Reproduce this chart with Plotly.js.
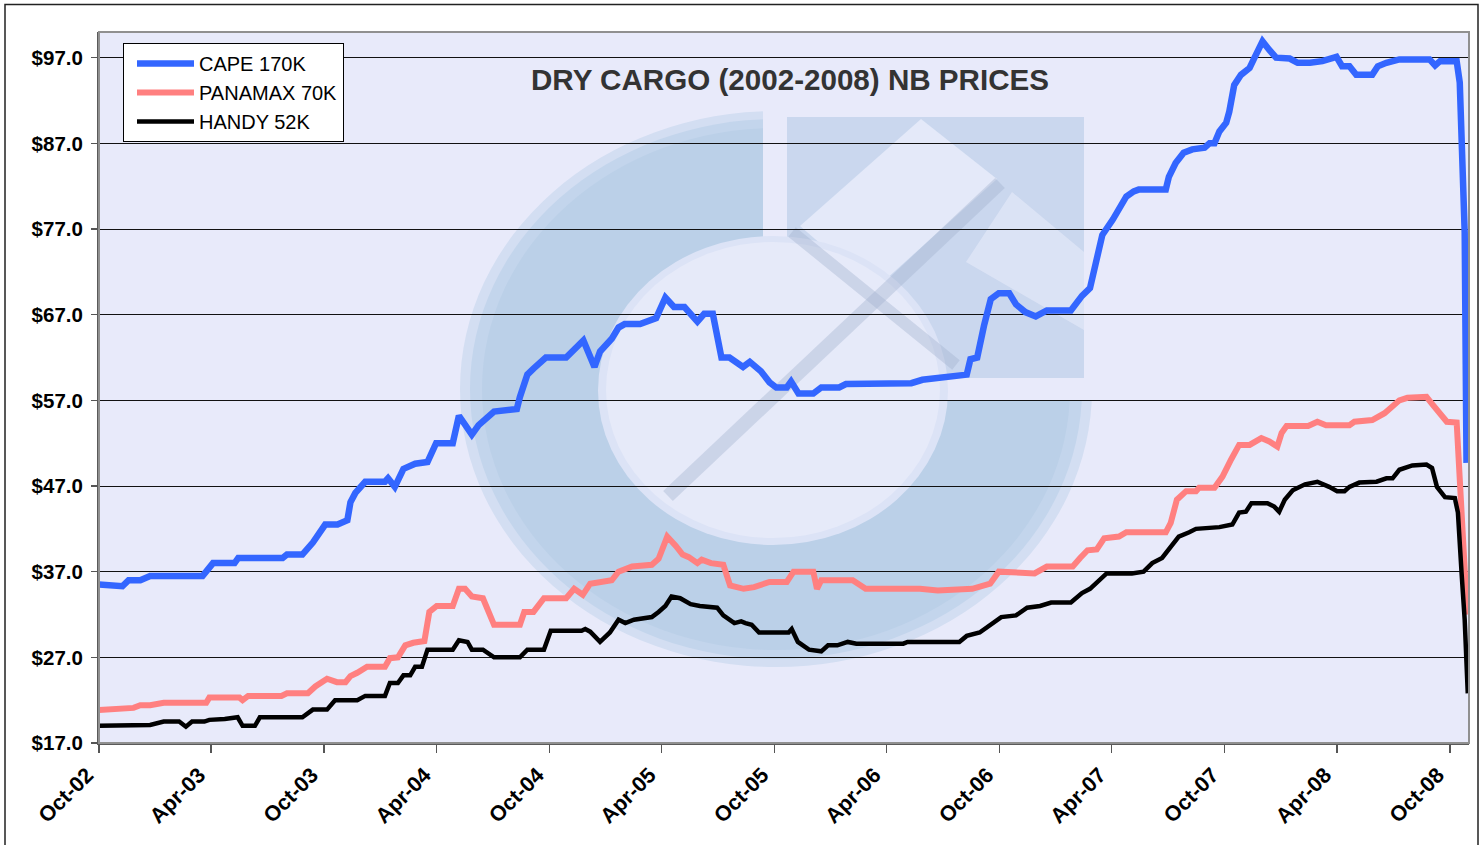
<!DOCTYPE html>
<html>
<head>
<meta charset="utf-8">
<script src="https://cdn.plot.ly/plotly-3.0.1.min.js"></script>
<style>
  html, body { margin: 0; padding: 0; background: #ffffff; }
  #chart { width: 1483px; height: 845px; }
</style>
</head>
<body>
<div id="chart"></div>
<script>
// ---------------- DATA ----------------
const seriesNames = ['CAPE 170K', 'PANAMAX 70K', 'HANDY 52K'];

const capeDates = ['2002-10-01','2002-10-19','2002-11-08','2002-11-18','2002-12-07','2002-12-23','2003-03-18','2003-04-04','2003-05-09','2003-05-15','2003-07-26','2003-08-02','2003-08-27','2003-09-13','2003-10-03','2003-10-23','2003-11-08','2003-11-13','2003-11-21','2003-12-07','2004-01-08','2004-01-13','2004-01-24','2004-02-07','2004-02-26','2004-03-17','2004-03-31','2004-04-27','2004-05-07','2004-05-28','2004-06-08','2004-07-03','2004-07-31','2004-08-09','2004-08-14','2004-08-26','2004-09-05','2004-09-19','2004-09-25','2004-10-28','2004-11-25','2004-12-13','2004-12-22','2005-01-10','2005-01-21','2005-01-31','2005-02-25','2005-03-23','2005-04-07','2005-04-21','2005-05-08','2005-05-29','2005-06-09','2005-06-23','2005-07-07','2005-07-20','2005-08-01','2005-08-11','2005-08-22','2005-09-09','2005-09-23','2005-10-04','2005-10-21','2005-10-28','2005-11-09','2005-12-03','2005-12-16','2006-01-14','2006-01-25','2006-04-28','2006-05-11','2006-05-29','2006-06-23','2006-07-21','2006-08-09','2006-08-15','2006-08-26','2006-09-06','2006-09-17','2006-09-30','2006-10-17','2006-10-28','2006-11-12','2006-11-29','2006-12-17','2007-01-25','2007-02-12','2007-02-25','2007-03-10','2007-03-17','2007-04-03','2007-04-15','2007-04-25','2007-05-07','2007-05-15','2007-06-28','2007-07-03','2007-07-14','2007-07-27','2007-08-10','2007-08-30','2007-09-07','2007-09-15','2007-09-23','2007-10-04','2007-10-09','2007-10-17','2007-10-28','2007-11-11','2007-11-19','2007-12-02','2007-12-13','2007-12-24','2008-01-15','2008-01-28','2008-02-17','2008-03-08','2008-03-31','2008-04-09','2008-04-21','2008-05-02','2008-05-28','2008-06-06','2008-06-20','2008-07-11','2008-08-29','2008-09-07','2008-09-15','2008-10-12','2008-10-17','2008-10-20','2008-10-25','2008-10-28'];
const capeValues = [35.5,35.4,35.3,36.0,36.0,36.5,36.5,38.0,38.0,38.6,38.6,39.0,39.0,40.4,42.5,42.5,43.0,45.1,46.2,47.5,47.5,47.9,46.9,49.0,49.6,49.8,52.0,52.0,55.2,53.0,54.1,55.7,56.0,56.0,57.4,60.0,60.7,61.5,62.0,62.0,64.0,60.9,62.7,64.2,65.5,65.9,65.9,66.6,69.0,67.9,67.9,66.2,67.1,67.1,62.0,62.0,61.3,60.9,61.5,60.4,59.1,58.5,58.5,59.2,57.8,57.8,58.5,58.5,58.9,58.9,59.0,59.4,59.6,60.0,60.0,61.8,62.0,65.7,68.8,69.5,69.5,68.2,67.3,66.8,67.5,67.5,69.2,70.1,74.5,76.3,78.1,79.8,80.8,81.4,81.6,81.6,83.1,84.7,85.9,86.3,86.5,87.0,87.0,88.4,89.4,90.7,93.8,95.0,95.8,97.0,98.9,97.9,97.0,96.9,96.4,96.4,96.6,97.1,96.0,96.0,95.0,95.0,96.0,96.4,96.8,96.8,96.1,96.6,96.6,94.1,87.1,76.6,49.7];

const panamaxDates = ['2002-10-01','2002-11-26','2002-12-07','2002-12-23','2003-01-14','2003-03-24','2003-03-29','2003-05-17','2003-05-22','2003-05-31','2003-07-24','2003-08-02','2003-09-05','2003-09-17','2003-10-06','2003-10-22','2003-11-05','2003-11-13','2003-11-24','2003-12-10','2004-01-08','2004-01-16','2004-01-29','2004-02-10','2004-02-23','2004-03-12','2004-03-20','2004-04-01','2004-04-27','2004-05-07','2004-05-17','2004-05-28','2004-06-15','2004-06-25','2004-07-03','2004-08-14','2004-08-21','2004-09-05','2004-09-22','2004-10-28','2004-11-10','2004-11-24','2004-12-06','2005-01-10','2005-01-21','2005-02-12','2005-03-16','2005-03-27','2005-04-10','2005-04-24','2005-05-05','2005-05-15','2005-05-29','2005-06-05','2005-06-20','2005-07-10','2005-07-21','2005-08-12','2005-08-29','2005-09-23','2005-10-21','2005-11-01','2005-12-03','2005-12-09','2005-12-16','2006-02-05','2006-02-26','2006-05-25','2006-06-23','2006-08-18','2006-09-16','2006-09-30','2006-11-27','2006-12-17','2007-01-28','2007-02-09','2007-02-21','2007-03-08','2007-03-20','2007-04-13','2007-04-25','2007-06-28','2007-07-06','2007-07-16','2007-07-31','2007-08-16','2007-08-21','2007-09-15','2007-09-28','2007-10-12','2007-10-25','2007-11-11','2007-11-22','2007-11-30','2007-12-13','2007-12-26','2008-01-02','2008-01-10','2008-02-14','2008-02-29','2008-03-14','2008-04-21','2008-04-29','2008-05-28','2008-06-17','2008-06-30','2008-07-11','2008-07-24','2008-08-24','2008-09-03','2008-09-15','2008-09-26','2008-10-12','2008-10-20','2008-10-29'];
const panamaxValues = [20.85,21.1,21.4,21.4,21.7,21.7,22.3,22.3,22.0,22.5,22.5,22.8,22.8,23.6,24.5,24.1,24.1,24.8,25.2,25.9,25.9,26.9,27.0,28.4,28.7,28.9,32.3,33.0,33.0,35.0,35.0,34.1,33.9,32.3,30.8,30.8,32.3,32.3,33.9,33.9,35.0,34.3,35.6,36.0,37.0,37.6,37.8,38.5,41.1,40.0,39.0,38.7,38.0,38.4,38.0,37.8,35.4,35.0,35.2,35.8,35.8,37.0,37.0,35.0,36.0,36.0,35.0,35.0,34.8,35.0,35.6,37.0,36.8,37.6,37.6,38.6,39.5,39.6,40.9,41.1,41.6,41.6,42.7,45.4,46.4,46.4,46.8,46.8,48.1,50.1,51.8,51.8,52.2,52.6,52.2,51.6,53.2,54.0,54.0,54.5,54.1,54.1,54.5,54.7,55.5,56.3,57.0,57.3,57.4,56.5,55.5,54.5,54.4,44.0,32.0];

const handyDates = ['2002-10-01','2002-12-23','2003-01-14','2003-02-08','2003-02-19','2003-03-01','2003-03-21','2003-03-29','2003-04-23','2003-05-14','2003-05-22','2003-06-11','2003-06-19','2003-08-27','2003-09-13','2003-10-06','2003-10-19','2003-11-24','2003-12-07','2004-01-08','2004-01-16','2004-01-29','2004-02-07','2004-02-18','2004-02-26','2004-03-08','2004-03-17','2004-04-27','2004-05-07','2004-05-21','2004-05-28','2004-06-15','2004-07-03','2004-08-14','2004-08-26','2004-09-22','2004-10-03','2004-11-22','2004-11-28','2004-12-06','2004-12-22','2005-01-07','2005-01-21','2005-02-01','2005-02-15','2005-03-16','2005-03-27','2005-04-07','2005-04-17','2005-05-01','2005-05-18','2005-06-02','2005-06-30','2005-07-10','2005-07-28','2005-08-08','2005-08-15','2005-08-25','2005-09-06','2005-10-24','2005-10-29','2005-11-08','2005-11-26','2005-12-16','2005-12-27','2006-01-11','2006-01-28','2006-02-11','2006-04-28','2006-05-05','2006-07-28','2006-08-09','2006-08-30','2006-09-17','2006-10-04','2006-10-28','2006-11-15','2006-12-06','2006-12-24','2007-01-25','2007-02-12','2007-02-25','2007-03-10','2007-03-24','2007-05-04','2007-05-23','2007-06-06','2007-06-22','2007-07-06','2007-07-19','2007-08-05','2007-08-16','2007-09-23','2007-10-14','2007-10-25','2007-11-05','2007-11-14','2007-12-10','2007-12-21','2007-12-29','2008-01-07','2008-01-20','2008-02-09','2008-02-29','2008-03-19','2008-04-01','2008-04-13','2008-04-21','2008-05-07','2008-06-04','2008-06-20','2008-06-30','2008-07-11','2008-08-01','2008-08-24','2008-09-02','2008-09-10','2008-09-23','2008-10-09','2008-10-14','2008-10-20','2008-10-25','2008-10-30'];
const handyValues = [19.0,19.1,19.5,19.5,18.9,19.5,19.5,19.7,19.8,20.0,19.0,19.0,20.0,20.0,20.9,20.9,22.0,22.0,22.5,22.5,24.0,24.0,24.9,24.9,25.9,25.9,27.9,27.9,29.0,28.8,27.9,27.9,27.0,27.0,27.9,27.9,30.1,30.1,30.3,30.0,28.8,29.9,31.4,31.0,31.4,31.7,32.3,33.0,34.1,33.9,33.2,33.0,32.8,31.9,31.0,31.2,31.0,30.8,29.9,29.9,30.3,28.8,27.9,27.7,28.4,28.4,28.8,28.6,28.6,28.8,28.8,29.5,29.9,30.8,31.7,31.9,32.8,33.0,33.4,33.4,34.5,35.0,35.8,36.8,36.8,37.0,38.0,38.6,39.9,41.1,41.6,42.0,42.2,42.5,43.9,44.0,45.0,45.0,44.6,44.0,45.4,46.5,47.2,47.5,46.9,46.4,46.4,46.9,47.4,47.5,47.9,47.9,48.9,49.4,49.5,49.1,46.9,45.7,45.6,43.9,36.8,31.4,22.8];

const xTickVals = ['2002-10-01','2003-04-01','2003-10-01','2004-04-01','2004-10-01','2005-04-01','2005-10-01','2006-04-01','2006-10-01','2007-04-01','2007-10-01','2008-04-01','2008-10-01'];
const xTickText = ['Oct-02','Apr-03','Oct-03','Apr-04','Oct-04','Apr-05','Oct-05','Apr-06','Oct-06','Apr-07','Oct-07','Apr-08','Oct-08'];
const yTickVals = [17, 27, 37, 47, 57, 67, 77, 87, 97];
const yTickText = ['$17.0','$27.0','$37.0','$47.0','$57.0','$67.0','$77.0','$87.0','$97.0'];
const chartTitle = 'DRY CARGO (2002-2008) NB PRICES';

// ---------------- LAYOUT HELPERS ----------------
const W = 1483, H = 845;
const M = { l: 99, r: 14, t: 32, b: 102 };
const PW = W - M.l - M.r, PH = H - M.t - M.b;
const X = px => (px - M.l) / PW;           // pixel -> paper x
const Y = py => (H - M.b - py) / PH;        // pixel -> paper y
const FONT = 'Arial, "Liberation Sans", Helvetica, sans-serif';
const BG = '#E8EAFA';

function poly(pts) {
  return 'M' + pts.map(p => X(p[0]).toFixed(5) + ',' + Y(p[1]).toFixed(5)).join(' L') + ' Z';
}

const shapes = [
  // watermark logo (decorative, soft)
  { type: 'circle', xref: 'paper', yref: 'paper', layer: 'below',
    x0: X(460), x1: X(1092), y0: Y(667), y1: Y(111), fillcolor: '#D3DEF2', line: { width: 0 } },
  { type: 'circle', xref: 'paper', yref: 'paper', layer: 'below',
    x0: X(470), x1: X(1082), y0: Y(659), y1: Y(119), fillcolor: '#C3D5EC', line: { width: 0 } },
  { type: 'circle', xref: 'paper', yref: 'paper', layer: 'below',
    x0: X(482), x1: X(1070), y0: Y(650), y1: Y(128), fillcolor: '#BBD0E8', line: { width: 0 } },
  { type: 'rect', xref: 'paper', yref: 'paper', layer: 'below',
    x0: X(763), x1: X(1100), y0: Y(401), y1: Y(100), fillcolor: BG, line: { width: 0 } },
  { type: 'rect', xref: 'paper', yref: 'paper', layer: 'below',
    x0: X(787), x1: X(1084), y0: Y(378), y1: Y(117), fillcolor: '#CAD7EE', line: { width: 0 } },
  { type: 'path', xref: 'paper', yref: 'paper', layer: 'below',
    path: poly([[800,226],[921,119],[997,179],[874,290]]), fillcolor: 'rgba(234,237,251,0.8)', line: { width: 0 } },
  { type: 'path', xref: 'paper', yref: 'paper', layer: 'below',
    path: poly([[1012,192],[1084,252],[1084,330],[966,262]]), fillcolor: 'rgba(234,237,251,0.55)', line: { width: 0 } },
  { type: 'circle', xref: 'paper', yref: 'paper', layer: 'below',
    x0: X(598), x1: X(948), y0: Y(545), y1: Y(236), fillcolor: '#DCE3F6', line: { width: 0 } },
  { type: 'circle', xref: 'paper', yref: 'paper', layer: 'below',
    x0: X(606), x1: X(940), y0: Y(538), y1: Y(242), fillcolor: '#E6EAF9', line: { width: 0 } },
  { type: 'line', xref: 'paper', yref: 'paper', layer: 'below',
    x0: X(668), y0: Y(496), x1: X(1000), y1: Y(183), line: { color: 'rgba(160,176,206,0.38)', width: 14 } },
  { type: 'line', xref: 'paper', yref: 'paper', layer: 'below',
    x0: X(792), y0: Y(232), x1: X(956), y1: Y(365), line: { color: 'rgba(160,176,206,0.38)', width: 12 } },
  // plot frame (top / right are grey)
  { type: 'rect', xref: 'paper', yref: 'paper', layer: 'above',
    x0: 0, x1: 1, y0: 0, y1: 1, line: { color: '#909090', width: 2 }, fillcolor: 'rgba(0,0,0,0)' },
  // outer border of the whole picture
  { type: 'rect', xref: 'paper', yref: 'paper', layer: 'above',
    x0: X(5), x1: X(1478), y0: Y(860), y1: Y(4.5), line: { color: '#222222', width: 1.5 }, fillcolor: 'rgba(0,0,0,0)' }
];

const traces = [
  { x: capeDates, y: capeValues, name: seriesNames[0], type: 'scatter', mode: 'lines',
    line: { color: '#3366FF', width: 6.5, shape: 'linear' }, legendgroup: 'a' },
  { x: panamaxDates, y: panamaxValues, name: seriesNames[1], type: 'scatter', mode: 'lines',
    line: { color: '#FF8080', width: 6, shape: 'linear' }, legendgroup: 'b' },
  { x: handyDates, y: handyValues, name: seriesNames[2], type: 'scatter', mode: 'lines',
    line: { color: '#000000', width: 4.5, shape: 'linear' }, legendgroup: 'c' }
];

const layout = {
  width: W, height: H,
  margin: M,
  paper_bgcolor: '#ffffff',
  plot_bgcolor: BG,
  font: { family: FONT, color: '#000000' },
  showlegend: true,
  legend: {
    x: X(123), y: Y(43), xanchor: 'left', yanchor: 'top',
    bgcolor: '#ffffff', bordercolor: '#000000', borderwidth: 1,
    font: { family: FONT, size: 20, color: '#000000' },
    itemwidth: 57, tracegroupgap: 7, traceorder: 'normal', indentation: 8
  },
  xaxis: {
    type: 'date',
    range: ['2002-10-01', '2008-11-01'],
    tickmode: 'array', tickvals: xTickVals, ticktext: xTickText,
    tickangle: -45,
    tickfont: { family: FONT, size: 21.5, weight: 'bold', color: '#000000' },
    ticks: 'outside', ticklen: 8, tickwidth: 1.5, tickcolor: '#555555',
    ticklabelshift: -12, ticklabelstandoff: 1,
    showgrid: false, zeroline: false,
    showline: true, linecolor: '#5a5a5a', linewidth: 2,
    fixedrange: true
  },
  yaxis: {
    range: [17, 100],
    tickmode: 'array', tickvals: yTickVals, ticktext: yTickText,
    tickfont: { family: FONT, size: 20.5, weight: 'bold', color: '#000000' },
    ticks: 'outside', ticklen: 6, tickwidth: 1.5, tickcolor: '#555555',
    ticklabelstandoff: 4,
    showgrid: true, gridcolor: '#111111', gridwidth: 1,
    zeroline: false,
    showline: true, linecolor: '#5a5a5a', linewidth: 2,
    fixedrange: true
  },
  shapes: shapes,
  annotations: [
    { text: chartTitle, xref: 'paper', yref: 'paper', x: X(790), y: Y(80),
      xanchor: 'center', yanchor: 'middle', showarrow: false,
      font: { family: FONT, size: 29.6, weight: 'bold', color: '#333333' } }
  ]
};

Plotly.newPlot('chart', traces, layout, { displayModeBar: false, staticPlot: true });
</script>
</body>
</html>
